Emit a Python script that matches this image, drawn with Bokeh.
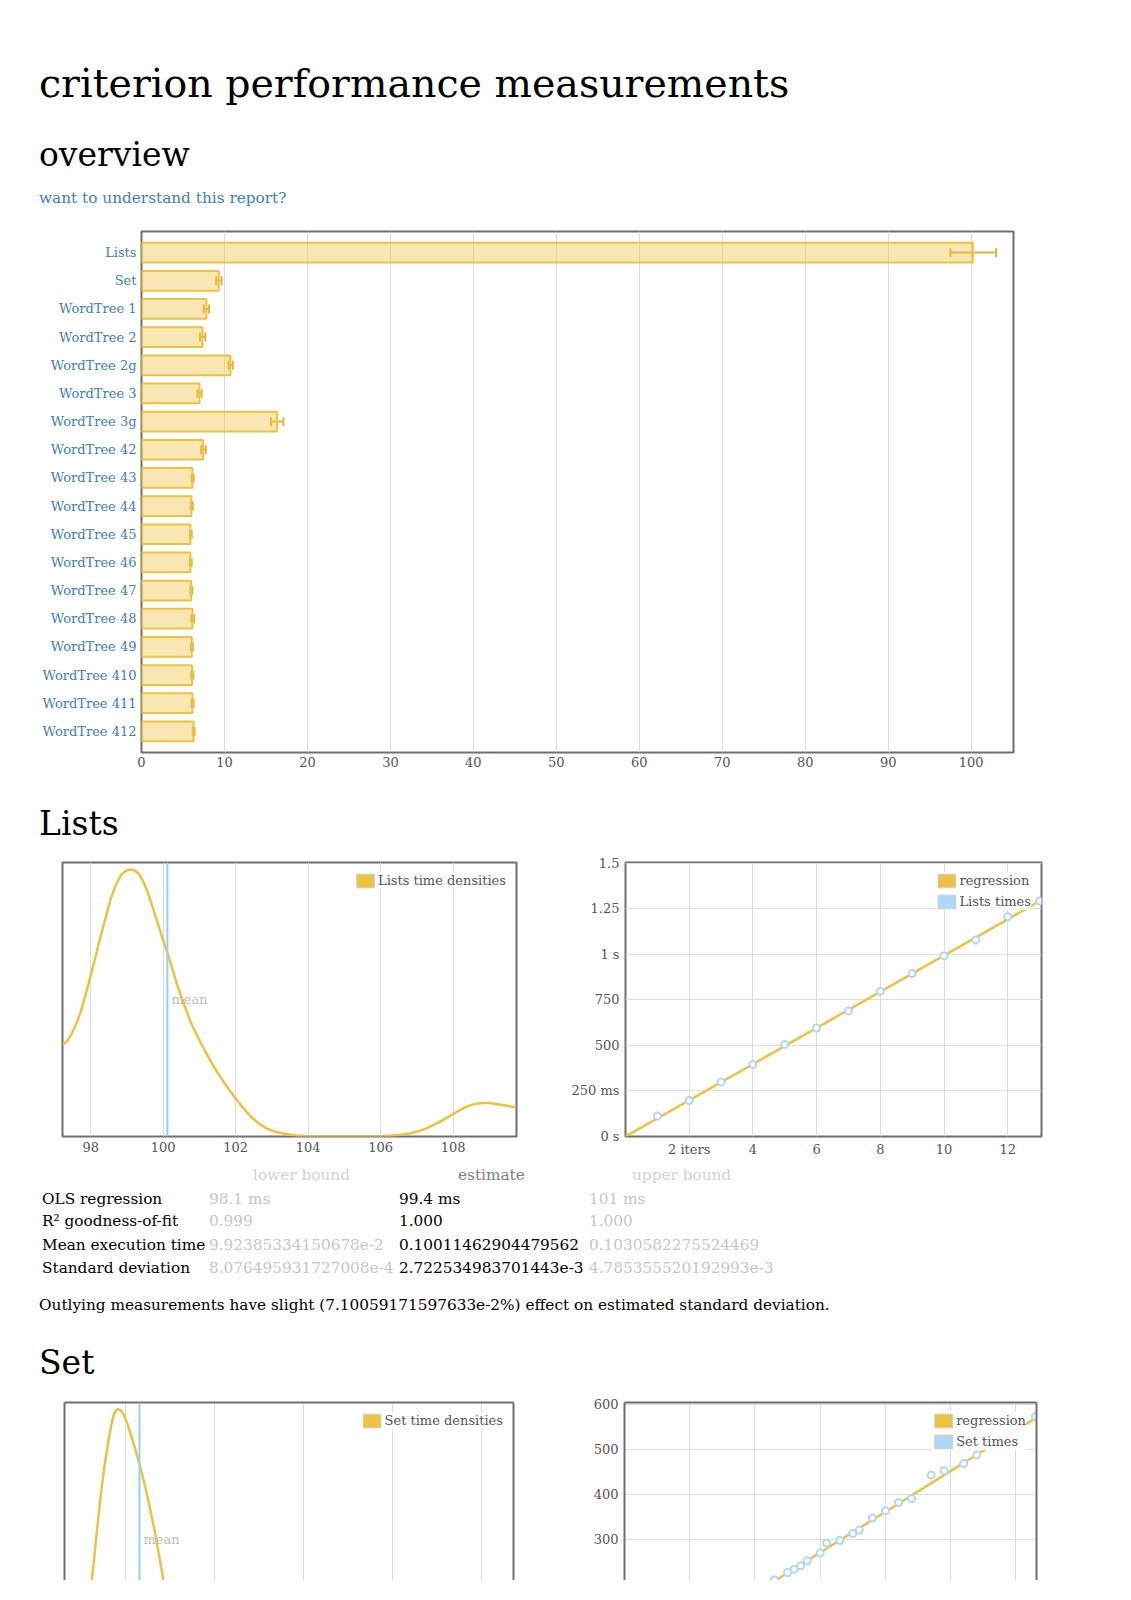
import numpy as np
from bokeh.plotting import figure
from bokeh.models import (Range1d, FactorRange, FixedTicker, Whisker, TeeHead, ColumnDataSource,
                          Legend, LegendItem, Span, Label, Div, LinearAxis, CategoricalAxis, Grid)
from bokeh.layouts import column, row
from bokeh.embed import file_html
from bokeh.resources import INLINE

FONT = "DejaVu Serif"
YEL = "#edc240"
BLUE = "#afd8f8"
MEAN_BLUE = "#92d0f4"
FRAME = "#6e6e6e"
GRID = "#dddddd"
TICK = "#545454"
LINK = "#417db9"
ERR = "#e0b53a"
BODY = 15.3

# ---------------- overview data (ms) ----------------
bench_names = ["Lists", "Set", "WordTree 1", "WordTree 2", "WordTree 2g", "WordTree 3",
               "WordTree 3g", "WordTree 42", "WordTree 43", "WordTree 44", "WordTree 45",
               "WordTree 46", "WordTree 47", "WordTree 48", "WordTree 49", "WordTree 410",
               "WordTree 411", "WordTree 412"]
bench_mean = [100.2, 9.31, 7.83, 7.35, 10.72, 6.99, 16.35, 7.43, 6.14, 6.02, 5.90, 5.90,
              5.98, 6.14, 6.06, 6.10, 6.14, 6.27]
bench_lo = [97.5, 9.0, 7.5, 7.05, 10.5, 6.75, 15.6, 7.2, 6.05, 5.92, 5.82, 5.82,
            5.9, 6.02, 5.95, 6.0, 6.05, 6.18]
bench_hi = [103.0, 9.65, 8.15, 7.7, 11.0, 7.25, 17.1, 7.75, 6.28, 6.18, 6.05, 6.05,
            6.12, 6.35, 6.2, 6.25, 6.28, 6.4]
overview_ticks = [0, 10, 20, 30, 40, 50, 60, 70, 80, 90, 100]

# ---------------- Lists ----------------
lists_kde_x = [97.22, 97.35, 97.45, 97.58, 97.72, 97.86, 98.0, 98.14, 98.28, 98.42, 98.55,
               98.69, 98.83, 98.96, 99.09, 99.2, 99.33, 99.45, 99.57, 99.7, 99.84, 99.98,
               100.12, 100.26, 100.39, 100.58, 100.76, 100.95, 101.13, 101.3, 101.5, 101.73,
               101.96, 102.2, 102.42, 102.65, 102.88, 103.1, 103.34, 103.65, 103.99, 104.6,
               105.18, 105.7, 106.1, 106.56, 106.8, 107.02, 107.25, 107.48, 107.7, 107.94,
               108.17, 108.4, 108.6, 108.82, 109.0, 109.23, 109.5, 109.74]
lists_kde_y = [0.335, 0.348, 0.369, 0.405, 0.454, 0.518, 0.588, 0.661, 0.734, 0.804, 0.867,
               0.918, 0.953, 0.969, 0.975, 0.972, 0.959, 0.93, 0.892, 0.84, 0.782, 0.724,
               0.667, 0.608, 0.551, 0.481, 0.417, 0.364, 0.318, 0.277, 0.233, 0.187,
               0.145, 0.105, 0.072, 0.046, 0.028, 0.017, 0.01, 0.004, 0.001, 0.0,
               0.0, 0.0, 0.001, 0.006, 0.011, 0.018, 0.029, 0.043, 0.059, 0.077,
               0.095, 0.111, 0.119, 0.122, 0.122, 0.118, 0.112, 0.107]
lists_mean = 100.11462904479562
lists_kde_ticks = [98, 100, 102, 104, 106, 108]

lists_iters = [1, 2, 3, 4, 5, 6, 7, 8, 9, 10, 11, 12, 13]
lists_times = [0.112, 0.198, 0.299, 0.395, 0.506, 0.596, 0.690, 0.798, 0.895, 0.992,
               1.080, 1.207, 1.293]          # seconds
lists_slope = 0.0994                        # s / iteration (OLS 99.4 ms)
lists_reg_xticks = [2, 4, 6, 8, 10, 12]
lists_reg_yticks = [0, 0.25, 0.5, 0.75, 1.0, 1.25, 1.5]
lists_reg_ylabels = ["0 s", "250 ms", "500", "750", "1 s", "1.25", "1.5"]

table_rows = ["OLS regression", "R\u00b2 goodness-of-fit", "Mean execution time", "Standard deviation"]
table_lower = ["98.1 ms", "0.999", "9.92385334150678e-2", "8.076495931727008e-4"]
table_est = ["99.4 ms", "1.000", "0.10011462904479562", "2.722534983701443e-3"]
table_upper = ["101 ms", "1.000", "0.1030582275524469", "4.785355520192993e-3"]
outlier_text = ("Outlying measurements have slight (7.10059171597633e-2%) effect on "
                "estimated standard deviation.")

# ---------------- Set ----------------
set_kde_x = [8.618, 8.665, 8.711, 8.758, 8.804, 8.835, 8.86, 8.885, 8.91, 8.94, 8.973,
             9.02, 9.067, 9.11, 9.153, 9.195, 9.236, 9.283, 9.33, 9.376, 9.423]
set_kde_y = [0.349, 0.5, 0.641, 0.765, 0.860, 0.915, 0.951, 0.97, 0.976, 0.972, 0.958,
             0.92, 0.872, 0.825, 0.775, 0.722, 0.666, 0.595, 0.52, 0.437, 0.349]
set_mean = 9.153
set_kde_ticks = [9, 10, 11, 12, 13]

set_iters = [23, 25, 26, 27, 28, 30, 31, 33, 35, 36, 38, 40, 42, 44, 47, 49, 52, 54, 57, 60, 63]
set_times = [209.8, 226.6, 234.0, 241.5, 252.6, 269.6, 291.8, 297.6, 313.1, 320.6, 347.2,
             363.4, 381.8, 390.7, 442.6, 452.1, 468.3, 486.9, 517.0, 548.0, 572.5]   # ms
set_slope = 9.03                            # ms / iteration
set_reg_xticks = [10, 20, 30, 40, 50, 60]
set_reg_yticks = [0, 100, 200, 300, 400, 500, 600]
set_reg_ylabels = ["0 s", "100 ms", "200", "300", "400", "500", "600"]


# ---------------- helpers ----------------
def base_fig(w, h, xr, yr, mb):
    p = figure(width=w, height=h, x_range=xr, y_range=yr, output_backend="svg",
               toolbar_location=None, x_axis_location=None, y_axis_location=None,
               min_border_left=mb[0], min_border_right=mb[1],
               min_border_top=mb[2], min_border_bottom=mb[3])
    p.grid.grid_line_color = None
    p.outline_line_color = FRAME
    p.outline_line_width = 2
    return p


def add_grid(p, dim, ticks):
    p.add_layout(Grid(dimension=dim, ticker=FixedTicker(ticks=ticks),
                      grid_line_color=GRID, grid_line_width=1))


def style_axis(ax, standoff=5, color=TICK, line=False):
    ax.axis_line_color = FRAME if line else None
    ax.axis_line_width = 2
    ax.major_tick_line_color = None
    ax.minor_tick_line_color = None
    ax.major_tick_out = 0
    ax.major_tick_in = 0
    ax.minor_tick_out = 0
    ax.minor_tick_in = 0
    ax.major_label_text_font = FONT
    ax.major_label_text_font_size = "13px"
    ax.major_label_text_color = color
    ax.major_label_standoff = standoff
    return ax


def lin_axis(p, side, ticks, labels=None, standoff=5, line=False):
    ax = LinearAxis(ticker=FixedTicker(ticks=ticks))
    style_axis(ax, standoff, line=line)
    if labels is not None:
        ax.major_label_overrides = {t: l for t, l in zip(ticks, labels)}
    if not ticks:
        ax.major_label_text_font_size = "0px"
        ax.major_label_standoff = 0
    p.add_layout(ax, side)
    return ax


def swatch(p, color, x0, y0):
    # legend-only renderer (kept hidden; it only supplies the coloured box of the legend)
    return p.block(x=[x0], y=[y0], width=[0], height=[0], fill_color=color,
                   line_color="#cccccc", line_width=1, visible=False)


def add_legend(p, items):
    lg = Legend(items=[LegendItem(label=lbl, renderers=[r]) for lbl, r in items],
                location="top_right", margin=10, padding=5, spacing=4,
                glyph_width=22, glyph_height=17, label_height=17, label_standoff=2,
                label_text_font=FONT, label_text_font_size="13px", label_text_color=TICK,
                border_line_color=None, background_fill_color="white",
                background_fill_alpha=0.85)
    p.add_layout(lg)


def density_fig(w, h, xr, yr, mb, kx, ky, mean, ticks, name, with_axis=True):
    p = base_fig(w, h, xr, yr, mb)
    add_grid(p, 0, ticks)
    p.line(kx, ky, line_color=YEL, line_width=2.5)
    p.add_layout(Span(location=mean, dimension="height", line_color=MEAN_BLUE, line_width=2))
    p.add_layout(Label(x=mean, y=0.5, x_offset=4, text="mean", text_font=FONT,
                       text_font_size="13px", text_color="#bdbdbd", text_baseline="middle"))
    add_legend(p, [(name + " time densities", swatch(p, YEL, mean, 0.5))])
    if with_axis:
        lin_axis(p, "below", ticks, standoff=5)
    return p


def regress_fig(w, h, xr, yr, mb, xs, ys, slope, xticks, yticks, ylabels, name,
                xlabels=None, with_xaxis=True, border_axes=False):
    p = base_fig(w, h, xr, yr, mb)
    add_grid(p, 0, xticks)
    add_grid(p, 1, yticks)
    xs_arr = np.array(xs, dtype=float)
    line_x = np.array([0.0, xs_arr.max()])
    p.line(line_x, slope * line_x, line_color=YEL, line_width=2.5)
    p.scatter(xs, ys, size=7, marker="circle", fill_color="white", line_color=BLUE, line_width=2)
    add_legend(p, [("regression", swatch(p, YEL, xs[0], ys[0])),
                   (name + " times", swatch(p, BLUE, xs[0], ys[0]))])
    lin_axis(p, "left", yticks, ylabels, standoff=6, line=border_axes)
    if with_xaxis:
        lin_axis(p, "below", xticks, xlabels, standoff=5)
    return p


def open_frame(p, left_axis=True):
    # the reference page is cut off at the bottom: draw only left, top and right borders
    p.outline_line_color = None
    if left_axis:
        lin_axis(p, "left", [], line=True)
    lin_axis(p, "above", [], line=True)
    lin_axis(p, "right", [], line=True)


# ---------------- overview figure ----------------
src = ColumnDataSource(dict(name=bench_names, mean=bench_mean, lo=bench_lo, hi=bench_hi))
ov = base_fig(1020, 570, Range1d(0, 105.1),
              FactorRange(factors=bench_names[::-1], range_padding=0.25,
                          range_padding_units="absolute"),
              (133, 15, 15, 34))
add_grid(ov, 0, overview_ticks)
ov.hbar(y="name", left=0, right="mean", height=0.70, source=src,
        fill_color=YEL, fill_alpha=0.4, line_color=YEL, line_width=2)
ov.add_layout(Whisker(source=src, base="name", lower="lo", upper="hi", dimension="width",
                      line_color=ERR, line_width=2,
                      upper_head=TeeHead(size=9, line_color=ERR, line_width=2),
                      lower_head=TeeHead(size=9, line_color=ERR, line_width=2)))
lin_axis(ov, "below", overview_ticks, standoff=4)
cax = CategoricalAxis()
style_axis(cax, standoff=5, color=LINK)
ov.add_layout(cax, "left")

# ---------------- Lists figures ----------------
dens_l = density_fig(560, 316, Range1d(97.22, 109.75), Range1d(0, 1.0), (54, 52, 16, 26),
                     lists_kde_x, lists_kde_y, lists_mean, lists_kde_ticks, "Lists")
reg_l = regress_fig(493, 316, Range1d(0, 13.06), Range1d(0, 1.505), (56, 20, 16, 26),
                    lists_iters, lists_times, lists_slope, lists_reg_xticks, lists_reg_yticks,
                    lists_reg_ylabels, "Lists",
                    xlabels=["2 iters"] + [str(t) for t in lists_reg_xticks[1:]])

# ---------------- Set figures (cut off at the bottom of the page) ----------------
dens_s = density_fig(560, 194, Range1d(8.31, 13.36), Range1d(0.349, 1.0), (56, 55, 16, 0),
                     set_kde_x, set_kde_y, set_mean, set_kde_ticks, "Set", with_axis=False)
open_frame(dens_s)
reg_s = regress_fig(493, 194, Range1d(0, 63.15), Range1d(208.8, 603.5), (56, 25, 16, 0),
                    set_iters, set_times, set_slope, set_reg_xticks, set_reg_yticks,
                    set_reg_ylabels, "Set", with_xaxis=False, border_axes=True)
open_frame(reg_s, left_axis=False)


# ---------------- text blocks ----------------
def txt(left, top, size, text, color="#000", extra=""):
    return (f'<div style="position:absolute;left:{left}px;top:{top}px;font-size:{size}px;'
            f'line-height:1;white-space:nowrap;color:{color};{extra}">{text}</div>')


def block(h, inner):
    return Div(text=(f'<div style="position:relative;width:1100px;height:{h}px;'
                     f"font-family:'DejaVu Serif',serif;\">{inner}</div>"),
               width=1100, height=h, margin=0)


div_top = block(208,
                txt(31, 56, 39.5, "criterion performance measurements")
                + txt(31, 130, 33, "overview")
                + txt(31, 183, BODY, "want to understand this report?", LINK))

div_lists = block(60, txt(31, 21, 33, "Lists"))

cols = [34, 201, 391, 581]
row_tops = [29.7, 52.2, 75.7, 99.1]
inner = (txt(245, 6.3, BODY, "lower bound", "#d2d2d2")
         + txt(450, 6.3, BODY, "estimate", "#808080")
         + txt(624, 6.3, BODY, "upper bound", "#d2d2d2"))
for i, top in enumerate(row_tops):
    inner += txt(cols[0], top, BODY, table_rows[i])
    inner += txt(cols[1], top, BODY, table_lower[i], "#c6c6c6")
    inner += txt(cols[2], top, BODY, table_est[i])
    inner += txt(cols[3], top, BODY, table_upper[i], "#c6c6c6")
inner += txt(31, 135.9, BODY, outlier_text)
inner += txt(31, 184, 33, "Set")
div_table = block(224, inner)

page = column(div_top, ov, div_lists, row(dens_l, reg_l, spacing=0), div_table,
              row(dens_s, reg_s, spacing=0), spacing=0, margin=(8, 0, 0, 8))

open("out.html", "w").write(file_html(page, INLINE, title="criterion report"))
